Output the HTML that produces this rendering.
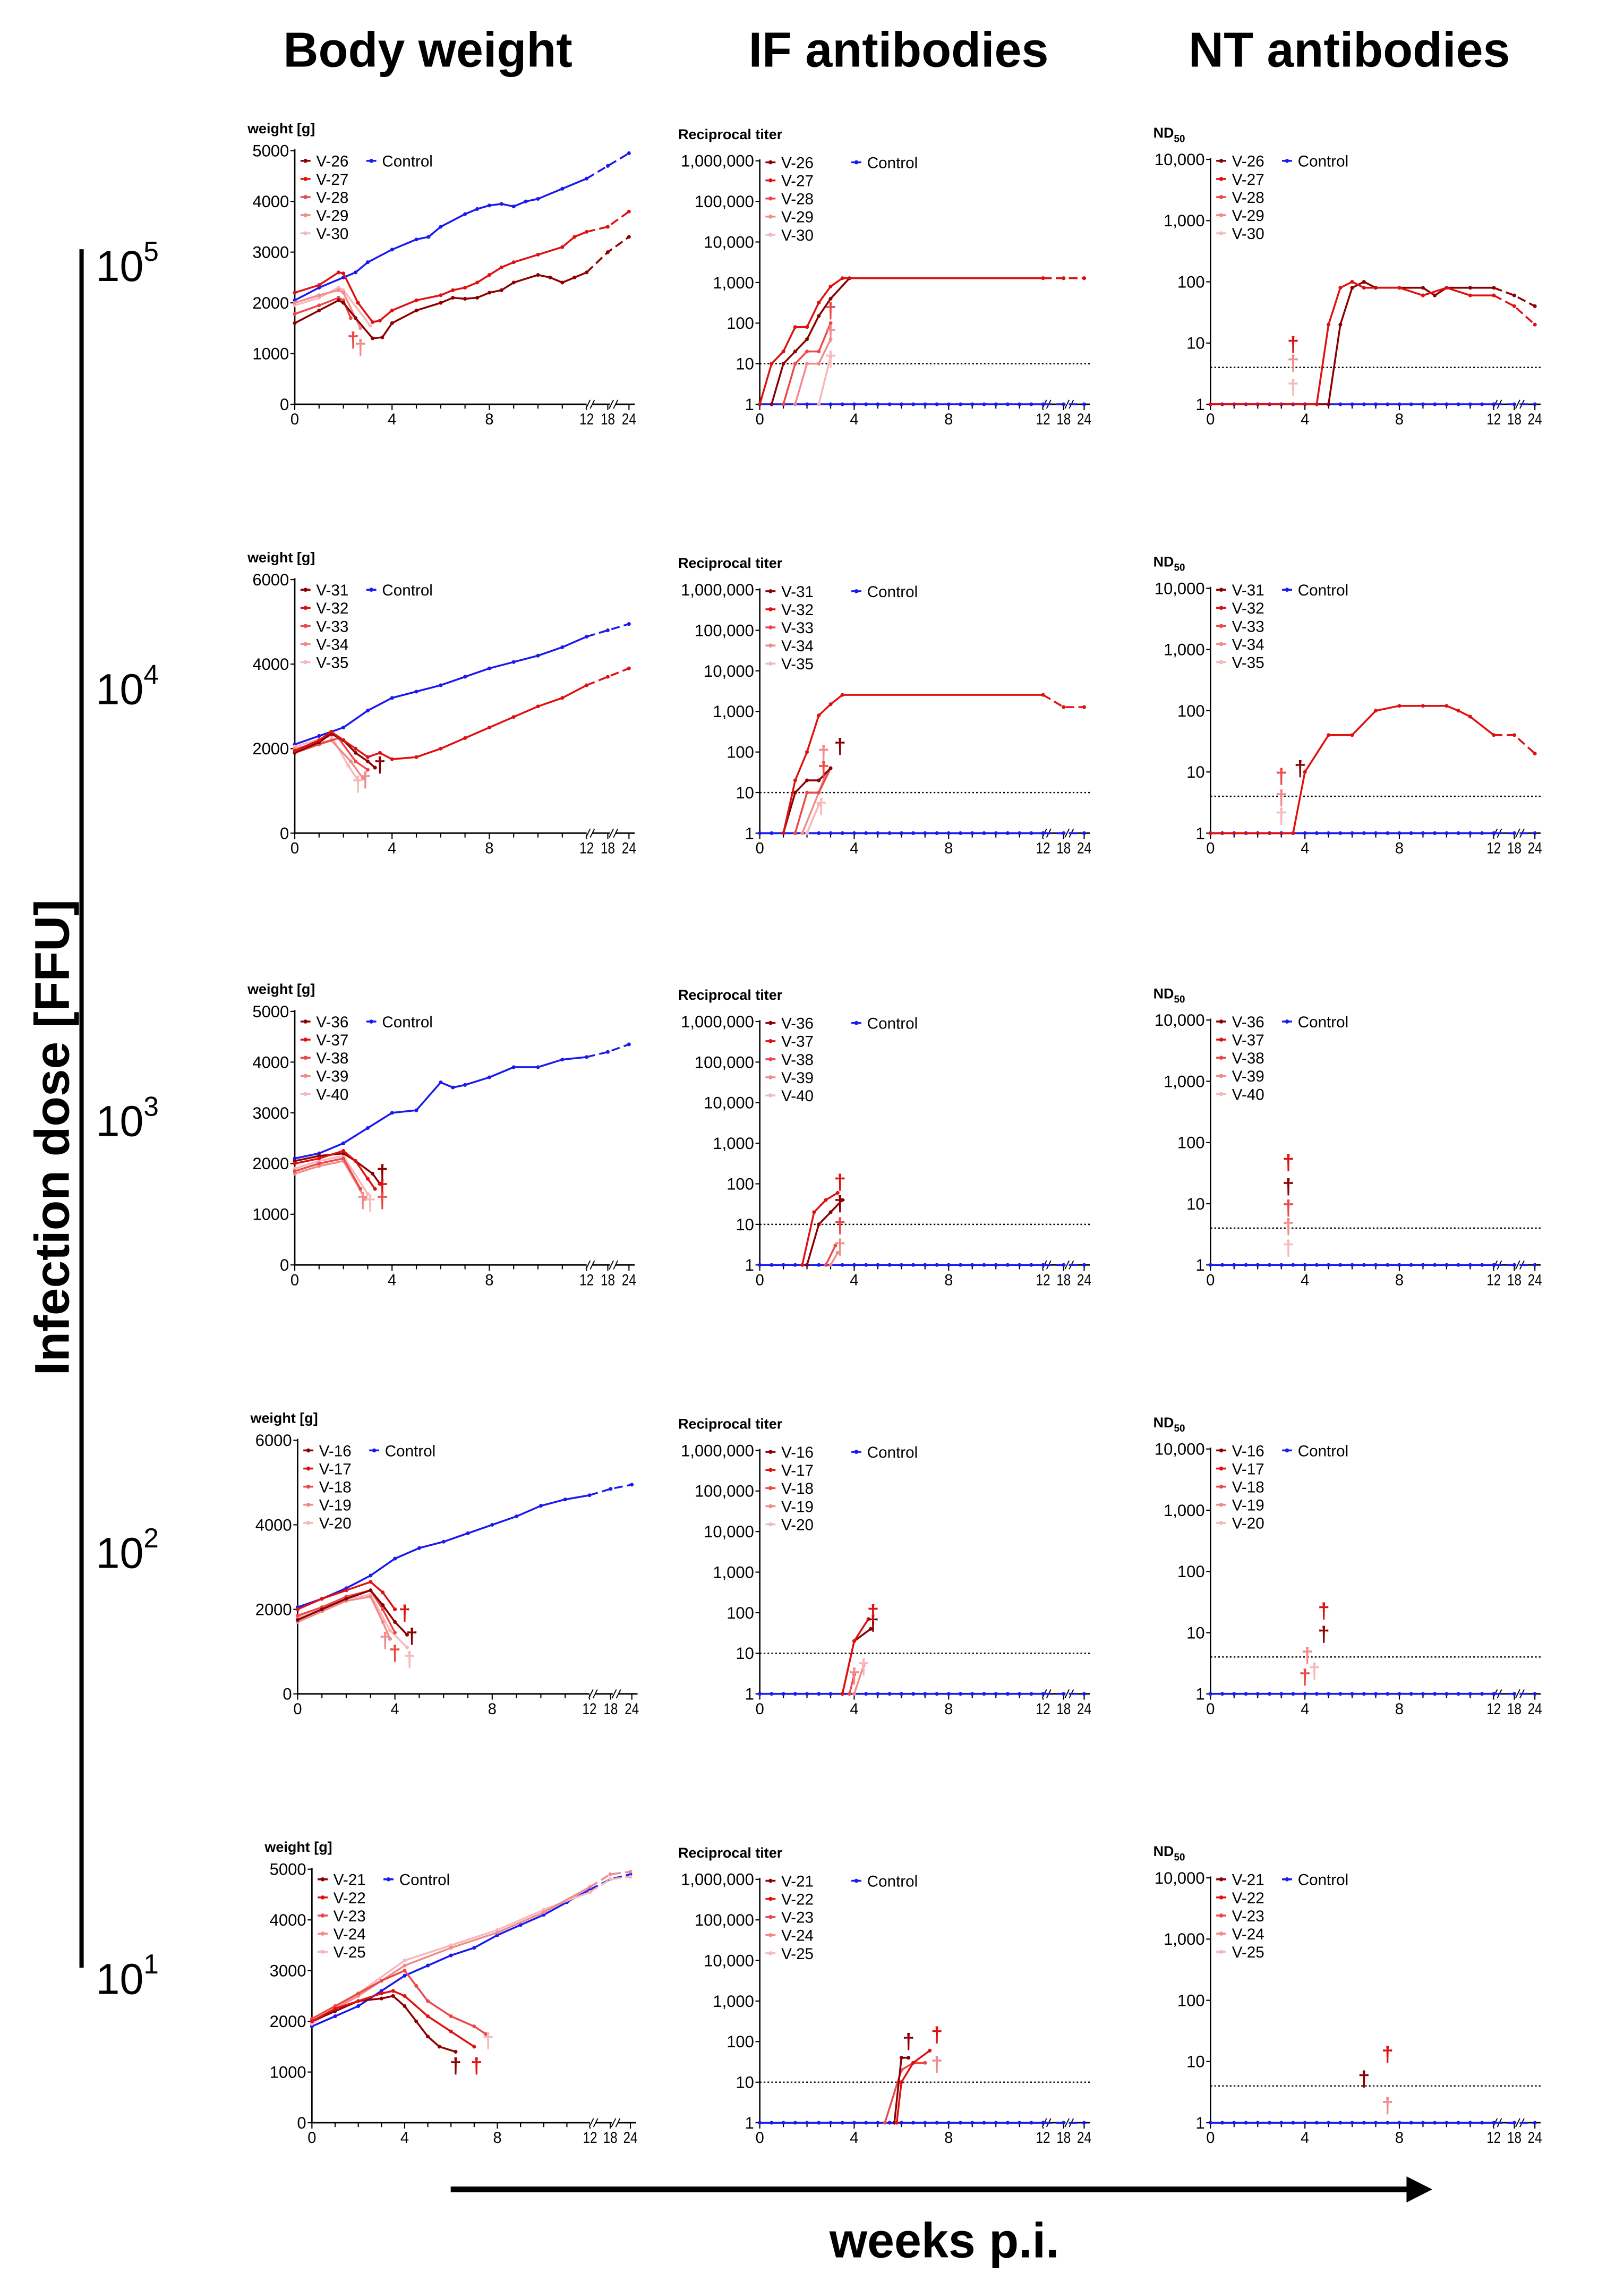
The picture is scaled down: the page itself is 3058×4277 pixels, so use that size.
<!DOCTYPE html>
<html><head><meta charset="utf-8"><title>Infection dose panels</title>
<style>html,body{margin:0;padding:0;background:#fff}svg{display:block}text{font-family:"Liberation Sans",Arial,sans-serif}</style>
</head><body>
<svg id="fig" xmlns="http://www.w3.org/2000/svg" width="3058" height="4277" viewBox="0 0 1135 1568" preserveAspectRatio="none">
<rect width="1135" height="1568" fill="#fff"/>
<text x="299" y="46" font-size="34" font-weight="bold" text-anchor="middle">Body weight</text>
<text x="628" y="46" font-size="34" font-weight="bold" text-anchor="middle">IF antibodies</text>
<text x="943" y="46" font-size="34" font-weight="bold" text-anchor="middle">NT antibodies</text>
<line x1="57" y1="172" x2="57" y2="1358" stroke="#000" stroke-width="3"/>
<text transform="translate(48,785) rotate(-90)" font-size="34" font-weight="bold" text-anchor="middle">Infection dose [FFU]</text>
<g font-size="30">
<text x="67" y="194">10<tspan font-size="19" dy="-14">5</tspan></text>
<text x="67" y="486">10<tspan font-size="19" dy="-14">4</tspan></text>
<text x="67" y="784">10<tspan font-size="19" dy="-14">3</tspan></text>
<text x="67" y="1082">10<tspan font-size="19" dy="-14">2</tspan></text>
<text x="67" y="1376">10<tspan font-size="19" dy="-14">1</tspan></text>
</g>
<line x1="315" y1="1511" x2="985" y2="1511" stroke="#000" stroke-width="4"/>
<polygon points="983,1502 1001,1511 983,1520" fill="#000"/>
<text x="660" y="1558" font-size="34" font-weight="bold" text-anchor="middle">weeks p.i.</text>
<g id="panels"></g>
</svg>
<script>
// ---------- data ----------
const rowIds = [["V-26","V-27","V-28","V-29","V-30"],["V-31","V-32","V-33","V-34","V-35"],["V-36","V-37","V-38","V-39","V-40"],["V-16","V-17","V-18","V-19","V-20"],["V-21","V-22","V-23","V-24","V-25"]];
const xTickLabels = [0,4,8,12,18,24];
const logTickLabels = ["1","10","100","1,000","10,000","100,000","1,000,000"];
const weightMax = [5000,6000,5000,6000,5000];

// Row 1 weight
const r1w_c = [[0,2050],[1,2300],[2,2500],[2.5,2600],[3,2800],[4,3050],[5,3250],[5.5,3300],[6,3500],[7,3750],[7.5,3850],[8,3920],[8.5,3950],[9,3900],[9.5,4000],[10,4050],[11,4250],[12,4450],[18,4700],[24,4950]];
const r1w_1 = [[0,1600],[1,1850],[1.8,2050],[2,2000],[2.5,1700],[3.2,1300],[3.6,1320],[4,1600],[5,1850],[6,2000],[6.5,2100],[7,2080],[7.5,2100],[8,2200],[8.5,2250],[9,2400],[10,2550],[10.5,2500],[11,2400],[11.5,2500],[12,2600],[18,3000],[24,3300]];
const r1w_2 = [[0,2200],[1,2350],[1.8,2600],[2,2580],[2.6,2000],[3.2,1620],[3.5,1650],[4,1850],[5,2050],[6,2150],[6.5,2250],[7,2300],[7.5,2400],[8,2550],[8.5,2700],[9,2800],[10,2950],[11,3100],[11.5,3300],[12,3400],[18,3500],[24,3800]];
const r1w_3 = [[0,1780],[1,1950],[1.8,2100],[2,2050],[2.3,1700]];
const r1w_4 = [[0,2000],[1,2150],[1.8,2250],[2,2200],[2.7,1500]];
const r1w_5 = [[0,1950],[1,2100],[1.8,2300],[2,2250],[3.1,1550]];
const r1w_d = [[2.4,1300,2],[2.7,1150,3]];
// Row 1 IF
const r1i_c = [[0,1],[24,1]];
const r1i_1 = [[0.5,1],[1,10],[1.5,20],[2,40],[2.5,150],[3,400],[3.8,1280],[12,1280],[18,1280],[24,1280]];
const r1i_2 = [[0,1],[0.5,10],[1,20],[1.5,80],[2,80],[2.5,320],[3,800],[3.5,1280],[12,1280],[18,1280],[24,1280]];
const r1i_3 = [[1,1],[1.5,10],[2,20],[2.5,20],[3,100]];
const r1i_4 = [[1.5,1],[2,10],[2.5,10],[3,40]];
const r1i_5 = [[2.5,1],[3,15]];
const r1i_d = [[3,220,2],[3,60,3],[3,14,4]];
// Row 1 NT
const r1n_c = [[0,1],[24,1]];
const r1n_1 = [[0,1],[5,1],[5.5,20],[6,80],[6.5,100],[7,80],[8,80],[9,80],[9.5,60],[10,80],[11,80],[12,80],[18,60],[24,40]];
const r1n_2 = [[0,1],[4.5,1],[5,20],[5.5,80],[6,100],[6.5,80],[8,80],[9,60],[10,80],[11,60],[12,60],[18,40],[24,20]];
const r1n_3 = [], r1n_4 = [], r1n_5 = [];
const r1n_d = [[3.5,10,1],[3.5,5,3],[3.5,2,4]];

// Row 2 weight
const r2w_c = [[0,2100],[1,2300],[2,2500],[3,2900],[4,3200],[5,3350],[6,3500],[7,3700],[8,3900],[9,4050],[10,4200],[11,4400],[12,4650],[18,4800],[24,4950]];
const r2w_1 = [[0,1900],[1,2150],[1.5,2350],[2,2200],[2.5,1900],[3,1700],[3.3,1550]];
const r2w_2 = [[0,1950],[1,2200],[1.5,2400],[2.5,2000],[3,1800],[3.5,1900],[4,1750],[5,1800],[6,2000],[7,2250],[8,2500],[9,2750],[10,3000],[11,3200],[12,3500],[18,3700],[24,3900]];
const r2w_3 = [[0,1900],[1,2100],[1.8,2250],[2.5,1700],[3,1500]];
const r2w_4 = [[0,2000],[1.5,2200],[2.3,1700],[2.8,1300]];
const r2w_5 = [[0,2050],[1.5,2300],[2.2,1600],[2.6,1250]];
const r2w_d = [[3.5,1650,0],[2.6,1200,4],[2.9,1300,3]];
// Row 2 IF
const r2i_c = [[0,1],[24,1]];
const r2i_1 = [[1,1],[1.5,10],[2,20],[2.5,20],[3,40]];
const r2i_2 = [[1,1],[1.5,20],[2,100],[2.5,800],[3,1500],[3.5,2560],[12,2560],[18,1280],[24,1280]];
const r2i_3 = [[1.5,1],[2,10],[2.5,10],[3,40]];
const r2i_4 = [[1.8,1],[2.5,10],[2.8,30]];
const r2i_5 = [[2,1],[2.5,5]];
const r2i_d = [[3.4,150,0],[2.7,100,3],[2.7,40,2],[2.6,5,4]];
// Row 2 NT
const r2n_c = [[0,1],[24,1]];
const r2n_1 = [];
const r2n_2 = [[0,1],[3.5,1],[4,10],[5,40],[6,40],[7,100],[8,120],[9,120],[10,120],[10.5,100],[11,80],[12,40],[18,40],[24,20]];
const r2n_3 = [], r2n_4 = [], r2n_5 = [];
const r2n_d = [[3.8,12,0],[3,9,2],[3,4,3],[3,2,4]];

// Row 3 weight
const r3w_c = [[0,2100],[1,2200],[2,2400],[3,2700],[4,3000],[5,3050],[6,3600],[6.5,3500],[7,3550],[8,3700],[9,3900],[10,3900],[11,4050],[12,4100],[18,4200],[24,4350]];
const r3w_1 = [[0,2050],[1,2150],[2,2200],[2.5,2050],[3.2,1800],[3.5,1600]];
const r3w_2 = [[0,2000],[1,2100],[2,2250],[2.5,2050],[3,1700],[3.3,1500]];
const r3w_3 = [[0,1850],[1,2000],[2,2100],[2.7,1500]];
const r3w_4 = [[0,1800],[1,1950],[2,2050],[2.9,1300]];
const r3w_5 = [[0,1900],[1,2050],[2,2150],[3,1400]];
const r3w_d = [[3.6,1850,0],[3.6,1550,1],[3.6,1300,2],[2.8,1300,3],[3.1,1250,4]];
// Row 3 IF
const r3i_c = [[0,1],[24,1]];
const r3i_1 = [[2,1],[2.5,10],[3,20],[3.5,40]];
const r3i_2 = [[1.8,1],[2.3,20],[2.8,40],[3.3,60]];
const r3i_3 = [[2.8,1],[3.2,3]];
const r3i_4 = [[3,1],[3.3,2]];
const r3i_5 = [];
const r3i_d = [[3.4,120,1],[3.4,35,0],[3.4,10,2],[3.4,3,3]];
// Row 3 NT
const r3n_c = [[0,1],[24,1]];
const r3n_1 = [], r3n_2 = [], r3n_3 = [], r3n_4 = [], r3n_5 = [];
const r3n_d = [[3.3,50,1],[3.3,20,0],[3.3,9,2],[3.3,4.5,3],[3.3,2,4]];

// Row 4 weight
const r4w_c = [[0,2050],[1,2250],[2,2500],[3,2800],[4,3200],[5,3450],[6,3600],[7,3800],[8,4000],[9,4200],[10,4450],[11,4600],[12,4700],[18,4850],[24,4950]];
const r4w_1 = [[0,1750],[1,2000],[2,2250],[3,2450],[3.5,2100],[4,1700],[4.5,1400]];
const r4w_2 = [[0,2000],[1,2250],[2,2450],[3,2650],[3.5,2400],[4,2000]];
const r4w_3 = [[0,1850],[1,2050],[2,2300],[3,2450],[3.5,2000],[4,1450]];
const r4w_4 = [[0,1700],[1,1950],[2,2200],[3,2300],[3.5,1700],[3.8,1300]];
const r4w_5 = [[0,1800],[1,2000],[2,2250],[3,2350],[3.8,1500],[4.5,1100]];
const r4w_d = [[4.7,1400,0],[4.4,1950,1],[4.0,1000,2],[3.6,1300,3],[4.6,850,4]];
// Row 4 IF
const r4i_c = [[0,1],[24,1]];
const r4i_1 = [[3.5,1],[4,20],[4.7,40]];
const r4i_2 = [[3.5,1],[4,20],[4.6,70]];
const r4i_3 = [[3.8,1],[4,3]];
const r4i_4 = [[4,1],[4.4,5]];
const r4i_5 = [];
const r4i_d = [[4.8,60,0],[4.8,110,1],[4,3,3],[4.4,5,4]];
// Row 4 NT
const r4n_c = [[0,1],[24,1]];
const r4n_1 = [], r4n_2 = [], r4n_3 = [], r4n_4 = [], r4n_5 = [];
const r4n_d = [[4.8,24,1],[4.8,10,0],[4.1,4.5,3],[4,2,2],[4.4,2.5,4]];

// Row 5 weight
const r5w_c = [[0,1900],[1,2100],[2,2300],[3,2600],[4,2900],[5,3100],[6,3300],[7,3450],[8,3700],[9,3900],[10,4100],[11,4350],[12,4600],[18,4800],[24,4900]];
const r5w_1 = [[0,2000],[1,2200],[2,2400],[3,2450],[3.5,2500],[4,2300],[4.5,2000],[5,1700],[5.5,1500],[6.2,1400]];
const r5w_2 = [[0,2000],[1,2250],[2,2400],[3,2550],[3.5,2600],[4,2500],[5,2100],[6,1800],[7,1500]];
const r5w_3 = [[0,2050],[1,2300],[2,2550],[3,2800],[4,3000],[4.5,2700],[5,2400],[6,2100],[7,1900],[7.5,1750]];
const r5w_4 = [[0,2000],[2,2500],[4,3100],[6,3450],[8,3750],[10,4150],[12,4650],[18,4900],[24,4950]];
const r5w_5 = [[0,1950],[2,2550],[4,3200],[6,3500],[8,3800],[10,4200],[12,4550],[18,4800],[24,4850]];
const r5w_d = [[6.2,1150,0],[7.1,1150,1],[7.6,1650,4]];
// Row 5 IF
const r5i_c = [[0,1],[24,1]];
const r5i_1 = [[5.7,1],[6,40],[6.3,40]];
const r5i_2 = [[5.8,1],[6,10],[6.5,30],[7.2,60]];
const r5i_3 = [[5.3,1],[6,20],[6.5,30],[7,30]];
const r5i_4 = [], r5i_5 = [];
const r5i_d = [[6.3,110,0],[7.5,160,1],[7.5,30,3]];
// Row 5 NT
const r5n_c = [[0,1],[24,1]];
const r5n_1 = [], r5n_2 = [], r5n_3 = [], r5n_4 = [], r5n_5 = [];
const r5n_d = [[6.5,5.5,0],[7.5,14,1],[7.5,2,3]];

const allData = [
 {w:[r1w_1,r1w_2,r1w_3,r1w_4,r1w_5,r1w_c],wd:r1w_d,i:[r1i_1,r1i_2,r1i_3,r1i_4,r1i_5,r1i_c],id:r1i_d,n:[r1n_1,r1n_2,r1n_3,r1n_4,r1n_5,r1n_c],nd:r1n_d},
 {w:[r2w_1,r2w_2,r2w_3,r2w_4,r2w_5,r2w_c],wd:r2w_d,i:[r2i_1,r2i_2,r2i_3,r2i_4,r2i_5,r2i_c],id:r2i_d,n:[r2n_1,r2n_2,r2n_3,r2n_4,r2n_5,r2n_c],nd:r2n_d},
 {w:[r3w_1,r3w_2,r3w_3,r3w_4,r3w_5,r3w_c],wd:r3w_d,i:[r3i_1,r3i_2,r3i_3,r3i_4,r3i_5,r3i_c],id:r3i_d,n:[r3n_1,r3n_2,r3n_3,r3n_4,r3n_5,r3n_c],nd:r3n_d},
 {w:[r4w_1,r4w_2,r4w_3,r4w_4,r4w_5,r4w_c],wd:r4w_d,i:[r4i_1,r4i_2,r4i_3,r4i_4,r4i_5,r4i_c],id:r4i_d,n:[r4n_1,r4n_2,r4n_3,r4n_4,r4n_5,r4n_c],nd:r4n_d},
 {w:[r5w_1,r5w_2,r5w_3,r5w_4,r5w_5,r5w_c],wd:r5w_d,i:[r5i_1,r5i_2,r5i_3,r5i_4,r5i_5,r5i_c],id:r5i_d,n:[r5n_1,r5n_2,r5n_3,r5n_4,r5n_5,r5n_c],nd:r5n_d}
];

// ---------- drawing ----------
const NS = "http://www.w3.org/2000/svg";
const colors = ["#8b0000","#e01010","#ec4848","#f28a8a","#f6b8b8","#1a1aee"];
const axisYs = [279,575,873,1169,1465];
const root = document.getElementById("panels");
function el(tag, attrs, parent){const e=document.createElementNS(NS,tag);for(const k in attrs)e.setAttribute(k,attrs[k]);(parent||root).appendChild(e);return e;}
function xw(x0,u,w){return w<=12? x0+w*u : x0+12*u+(w-12)/6*0.87*u;}

function drawPanel(kind,r,cfg){
  const g=el("g",{});
  
  
  const {x0,u,yb,h}=cfg;
  let ymap;
  if(kind==="weight"){const mx=weightMax[r];ymap=v=>yb-v/mx*h;}
  else{const dec=kind==="if"?6:4;ymap=v=>yb-Math.log10(Math.max(v,1))/dec*h;}
  const xm=w=>xw(x0,u,w);
  const xEnd=xm(24)+4;
  const ax=el("path",{d:`M${x0} ${yb-h-1}V${yb}H${xEnd}`,fill:"none",stroke:"#000","stroke-width":1},g);
  
  
  for(let w=0;w<=12;w++){el("line",{x1:xm(w),y1:yb,x2:xm(w),y2:yb+(w%4===0?4:3),stroke:"#000","stroke-width":0.8},g);}
  [18,24].forEach(w=>el("line",{x1:xm(w),y1:yb,x2:xm(w),y2:yb+4,stroke:"#000","stroke-width":0.8},g));
  [12.6,19.2].forEach(w=>{const x=xm(w);el("rect",{x:x-1.5,y:yb-3,width:4,height:6,fill:"#fff"},g);el("path",{d:`M${x-2} ${yb+3}L${x+1} ${yb-3}M${x+1} ${yb+3}L${x+4} ${yb-3}`,stroke:"#000","stroke-width":0.7},g);});
  xTickLabels.forEach(w=>{const t=el("text",{x:xm(w),y:yb+14,"font-size":11,"text-anchor":"middle",textLength:w>=10?10:6,lengthAdjust:"spacingAndGlyphs"},g);t.textContent=w;
    
    });
  if(kind==="weight"){
    const mx=weightMax[r],st=mx===6000?2000:1000;
    for(let v=0;v<=mx;v+=st){const y=ymap(v);el("line",{x1:x0-3,y1:y,x2:x0,y2:y,stroke:"#000","stroke-width":0.8},g);
      const t=el("text",{x:x0-4,y:y+4,"font-size":11.5,"text-anchor":"end"},g);t.textContent=v;
      
      }
    const lab=el("text",{x:x0-33,y:yb-h-12,"font-size":10,"font-weight":"bold"},g);lab.textContent="weight [g]";
    
    
  } else {
    const dec=kind==="if"?6:4;
    for(let d=0;d<=dec;d++){const y=ymap(Math.pow(10,d));el("line",{x1:x0-3,y1:y,x2:x0,y2:y,stroke:"#000","stroke-width":0.8},g);
      const t=el("text",{x:x0-4,y:y+4,"font-size":11.5,"text-anchor":"end"},g);t.textContent=logTickLabels[d];
      
      }
    const lab=el("text",{x:x0-(kind==="if"?57:40),y:yb-h-15,"font-size":10,"font-weight":"bold"},g);
    if(kind==="if"){lab.textContent="Reciprocal titer";}else{lab.innerHTML='ND<tspan font-size="7" dy="3">50</tspan>';}
    
    
    const cut=kind==="if"?10:4;
    const dl=el("line",{x1:x0,y1:ymap(cut),x2:xEnd,y2:ymap(cut),stroke:"#000","stroke-width":0.9,"stroke-dasharray":"1.2,1.5"},g);
    
    
  }
  const d=allData[r];
  const series=kind==="weight"?d.w:kind==="if"?d.i:d.n;
  const dags=kind==="weight"?d.wd:kind==="if"?d.id:d.nd;
  const order=[5,4,3,2,0,1];
  order.forEach(si=>{
    let pts=series[si]; if(!pts||!pts.length)return;
    if(si===5&&kind!=="weight"){const a=pts[0][1];pts=[];for(let w=0;w<=12;w+=0.5)pts.push([w,a]);pts.push([18,a],[24,a]);}
    const sg=el("g",{},g);
    
    
    const solid=pts.filter(p=>p[0]<=12), dash=pts.filter(p=>p[0]>=12);
    if(solid.length>1)el("polyline",{points:solid.map(p=>xm(p[0])+","+ymap(p[1])).join(" "),fill:"none",stroke:colors[si],"stroke-width":1.3},sg);
    if(dash.length>1)el("polyline",{points:dash.map(p=>xm(p[0])+","+ymap(p[1])).join(" "),fill:"none",stroke:colors[si],"stroke-width":1.3,"stroke-dasharray":"6,3"},sg);
    pts.forEach(p=>el("circle",{cx:xm(p[0]),cy:ymap(p[1]),r:1.3,fill:colors[si]},sg));
  });
  dags.forEach(dg=>{const t=el("text",{x:xm(dg[0]),y:ymap(dg[1])+6,"font-size":15,"font-weight":"bold","text-anchor":"middle",fill:colors[dg[2]]},g);t.textContent="†";
    
    });
  const lx=x0+4, ly=yb-h+(kind==="weight"?7:1);
  const lg=el("g",{},g);
  
  
  rowIds[r].forEach((id,i)=>{const y=ly+i*12.5;
    el("line",{x1:lx,y1:y,x2:lx+7,y2:y,stroke:colors[i],"stroke-width":1.3},lg);
    el("circle",{cx:lx+3.5,cy:y,r:1.4,fill:colors[i]},lg);
    const t=el("text",{x:lx+11,y:y+4,"font-size":11},lg);t.textContent=id;
    
    });
  const cx=lx+(kind==="if"?60:46);
  el("line",{x1:cx,y1:ly,x2:cx+7,y2:ly,stroke:colors[5],"stroke-width":1.3},lg);
  el("circle",{cx:cx+3.5,cy:ly,r:1.4,fill:colors[5]},lg);
  const ct=el("text",{x:cx+11,y:ly+4,"font-size":11},lg);ct.textContent="Control";
  
  
}

for(let r=0;r<5;r++){
  const yb=axisYs[r];
  drawPanel("weight",r,{x0:r===4?218:(r===3?208:206),u:r===4?16.2:17,yb:yb,h:175});
  drawPanel("if",r,{x0:531,u:16.5,yb:yb,h:168});
  drawPanel("nt",r,{x0:846,u:16.5,yb:yb,h:169});
}
</script>
</body></html>
